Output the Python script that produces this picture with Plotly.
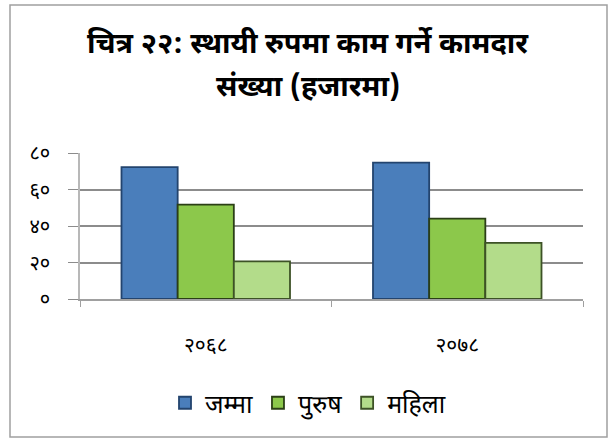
import plotly.graph_objects as go

categories = ["२०६८", "२०७८"]
series_names = ["जम्मा", "पुरुष", "महिला"]
total_vals = [72.3, 74.7]
male_vals = [51.7, 44.0]
female_vals = [20.6, 30.7]
y_tick_vals = [0, 20, 40, 60, 80]
y_tick_text = ["०", "२०", "४०", "६०", "८०"]
title_line1 = "चित्र २२: स्थायी रुपमा काम गर्ने कामदार"
title_line2 = "संख्या (हजारमा)"

fills = ["#4a7ebb", "#8cc84b", "#b3dc8a"]
outlines = ["#23446e", "#2b3f16", "#3d5226"]
FONT = "Noto Sans Devanagari, Noto Sans, sans-serif"

fig = go.Figure()
for name, vals, fc, lc in zip(series_names, [total_vals, male_vals, female_vals], fills, outlines):
    fig.add_trace(go.Bar(x=categories, y=vals, name=name,
                         marker=dict(color=fc, line=dict(color=lc, width=1.8))))

fig.update_layout(
    template="none",
    width=616, height=442,
    margin=dict(l=80, r=33, t=153, b=143, autoexpand=False),
    paper_bgcolor="white", plot_bgcolor="white",
    barmode="group", bargap=0.33, bargroupgap=0,
    font=dict(family=FONT, color="black"),
    showlegend=True,
    legend=dict(orientation="h", x=(308 - 80) / 503, xanchor="center", y=(299 - 403) / 146, yanchor="middle",
                font=dict(size=25, family=FONT), itemwidth=30, tracegroupgap=0,
                bgcolor="rgba(0,0,0,0)", borderwidth=0),
    xaxis=dict(type="category", showgrid=False, showline=True, linecolor="#a0a0a0", linewidth=1.5,
               ticks="outside", tickson="boundaries", ticklen=6, tickcolor="#a0a0a0",
               tickfont=dict(size=21, family=FONT), ticklabelstandoff=26, automargin=False),
    yaxis=dict(range=[0, 80], tickvals=y_tick_vals, ticktext=y_tick_text,
               showgrid=True, gridcolor="#8c8c8c", gridwidth=1.5,
               showline=True, linecolor="#b8b8b8", linewidth=1.5,
               ticks="outside", ticklen=10, tickcolor="#8c8c8c",
               tickfont=dict(size=20, family=FONT), ticklabelstandoff=14,
               zeroline=False, automargin=False),
    annotations=[
        dict(text="<b>" + title_line1 + "</b>", xref="paper", yref="paper", x=(308 - 80) / 503, y=(299 - 46) / 146,
             showarrow=False, xanchor="center", yanchor="middle",
             font=dict(size=29, family=FONT, color="black")),
        dict(text="<b>" + title_line2 + "</b>", xref="paper", yref="paper", x=(308 - 80) / 503, y=(299 - 89) / 146,
             showarrow=False, xanchor="center", yanchor="middle",
             font=dict(size=29, family=FONT, color="black")),
    ],
    shapes=[dict(type="rect", xref="paper", yref="paper",
                 x0=(10 - 80) / 503, x1=(607 - 80) / 503,
                 y0=(299 - 437) / 146, y1=(299 - 5) / 146,
                 line=dict(color="#a0a0a0", width=1.5), fillcolor="rgba(0,0,0,0)", layer="below")],
)

fig.write_html("out.html", config={"displayModeBar": False},
               post_script="document.body.style.margin='0';document.body.style.overflow='hidden';")
